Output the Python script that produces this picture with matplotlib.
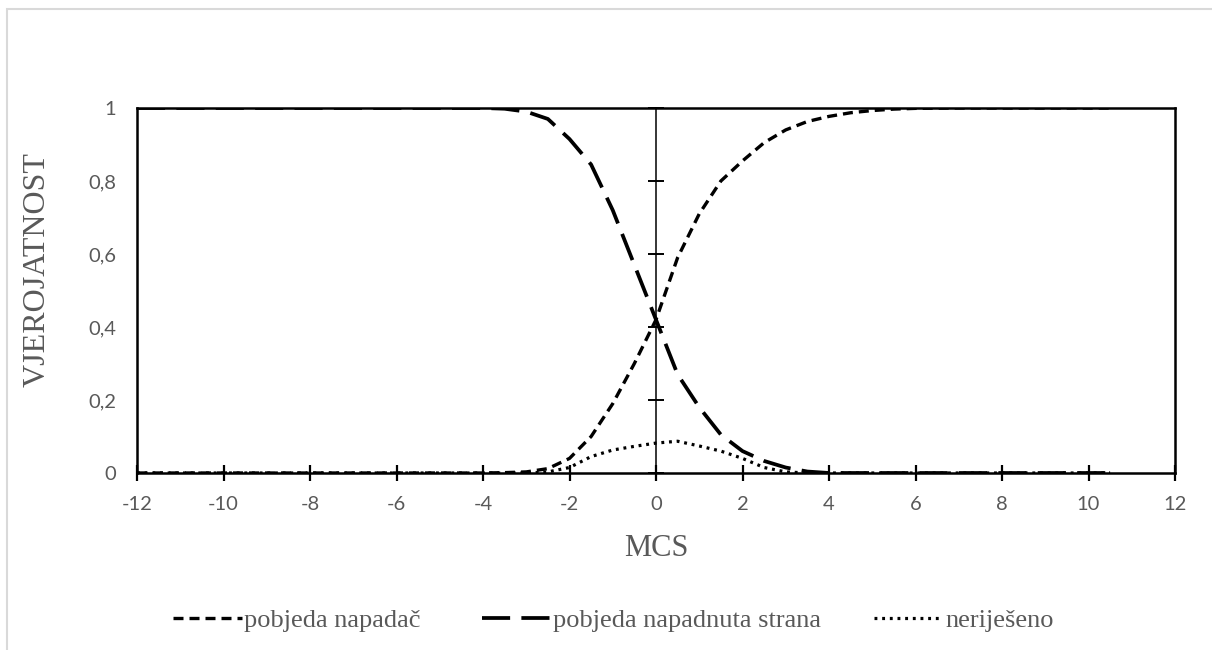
import matplotlib
matplotlib.use("Agg")
import matplotlib.pyplot as plt
from matplotlib.patches import Rectangle

# podaci ocitani sa grafika
mcs = [-12, -11, -10, -9, -8, -7, -6, -5, -4,
       -3.5, -3, -2.5, -2, -1.5, -1, -0.5, 0, 0.5, 1,
       1.5, 2, 2.5, 3, 3.5, 4, 4.5, 5, 5.5, 6,
       7, 8, 9, 10, 10.5]

pobjeda_napadac = [0, 0, 0, 0, 0, 0, 0, 0, 0,
                   0.001, 0.003, 0.012, 0.04, 0.10, 0.19, 0.30, 0.42, 0.59, 0.71,
                   0.80, 0.855, 0.905, 0.94, 0.963, 0.977, 0.987, 0.993, 0.997, 0.999,
                   1, 1, 1, 1, 1]

pobjeda_napadnuta = [1, 1, 1, 1, 1, 1, 1, 1, 1,
                     0.998, 0.99, 0.97, 0.915, 0.845, 0.72, 0.57, 0.42, 0.27, 0.18,
                     0.105, 0.06, 0.033, 0.015, 0.004, 0, 0, 0, 0, 0,
                     0, 0, 0, 0, 0]

nerijeseno = [0, 0, 0, 0, 0, 0, 0, 0, 0,
              0, 0, 0.003, 0.015, 0.045, 0.063, 0.073, 0.082, 0.087, 0.074,
              0.06, 0.04, 0.015, 0.003, 0, 0, 0, 0, 0, 0,
              0, 0, 0, 0, 0]

x_ticks = [-12, -10, -8, -6, -4, -2, 0, 2, 4, 6, 8, 10, 12]
y_ticks = [0, 0.2, 0.4, 0.6, 0.8, 1]
y_labels = ["0", "0,2", "0,4", "0,6", "0,8", "1"]

siva = "#595959"

fig = plt.figure(figsize=(12.12, 6.5), dpi=100)
pos = [137 / 1212, 1 - 473 / 650, 1038 / 1212, 365 / 650]
ax = fig.add_axes(pos)

ax.plot(mcs, pobjeda_napadac, color="black", lw=2.4, dashes=(3, 1.8),
        label="pobjeda napadač")
ax.plot(mcs, pobjeda_napadnuta, color="black", lw=2.7, dashes=(7.5, 3),
        label="pobjeda napadnuta strana")
ax.plot(mcs, nerijeseno, color="black", lw=2.3, dashes=(0.9, 1.5),
        label="neriješeno")

ax.set_xlim(-12, 12)
ax.set_ylim(0, 1)
ax.set_xticks(x_ticks)
ax.set_xticklabels([str(t) for t in x_ticks])
ax.set_yticks(y_ticks)
ax.set_yticklabels(y_labels)

for s in ax.spines.values():
    s.set_linewidth(1.8)
    s.set_color("black")

ax.tick_params(axis="x", direction="inout", length=11, width=1.6, color="black",
               labelsize=14.5, labelcolor=siva, pad=11)
ax.tick_params(axis="y", length=0, labelsize=14.5, labelcolor=siva, pad=15)
for lab in ax.get_xticklabels() + ax.get_yticklabels():
    lab.set_fontfamily("Lato")

ax.set_xlabel("MCS", fontsize=22, color=siva, family="Liberation Serif")
ax.xaxis.set_label_coords(0.5, -0.168)
ax.set_ylabel("VJEROJATNOST", fontsize=23, color=siva, family="Liberation Serif")
ax.yaxis.set_label_coords(-0.082, 0.556)

# vertikalna os kroz nulu
ax2 = fig.add_axes(pos, facecolor="none")
ax2.set_xlim(-12, 12)
ax2.set_ylim(0, 1)
ax2.set_yticks(y_ticks)
for k in ["top", "right", "bottom"]:
    ax2.spines[k].set_visible(False)
ax2.spines["left"].set_position(("data", 0))
ax2.spines["left"].set_linewidth(1.1)
ax2.tick_params(axis="x", bottom=False, labelbottom=False)
ax2.tick_params(axis="y", direction="inout", length=11, width=1.4,
                labelleft=False)

# legenda - svaka stavka posebno, kao u Excelu
leg_x = [173 / 1212, 482 / 1212, 874 / 1212]
for line, lx in zip(ax.get_lines(), leg_x):
    leg = fig.legend(handles=[line], loc="center left", bbox_to_anchor=(lx, 0.046),
                     frameon=False, handlelength=2.6, handletextpad=0.1,
                     borderpad=0, borderaxespad=0,
                     prop={"family": "Liberation Serif", "size": 19})
    for t in leg.get_texts():
        t.set_color(siva)

# okvir grafikona
fig.patches.append(Rectangle((7 / 1212, -0.1), 1.2, 1.1 - 9 / 650, transform=fig.transFigure,
                             fill=False, ec="#d9d9d9", lw=1.5))

fig.savefig("out.png", dpi=100)
